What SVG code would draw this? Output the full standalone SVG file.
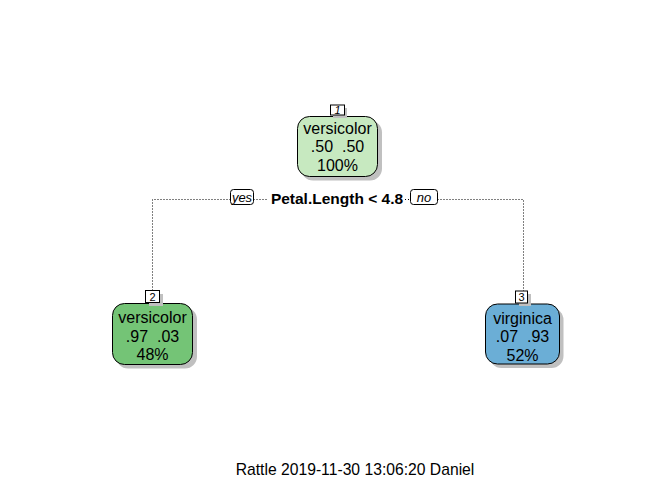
<svg xmlns="http://www.w3.org/2000/svg" width="672" height="480" viewBox="0 0 672 480">
<style>
text{font-family:"Liberation Sans",Arial,sans-serif;fill:#000;white-space:pre}
.node{stroke:#000;stroke-width:1}
.shadow{fill:#c0c0c0;stroke:none}
.nt{font-size:16px;text-anchor:middle}
.num{font-size:11px;text-anchor:middle}
.lbl{fill:#fff;stroke:#000;stroke-width:1}
.dot{fill:none;stroke:#000;stroke-width:1;stroke-dasharray:1 2}
.yn{font-size:13px;font-style:italic;text-anchor:middle}
</style>
<rect width="672" height="480" fill="#fff"/>
<g id="connectors">
<path class="dot" d="M152.5 290.5 V199.5 H230.5"/>
<path class="dot" d="M253.5 199.5 H268"/>
<path class="dot" d="M405 199.5 H410"/>
<path class="dot" d="M437.5 199.5 H523.5 V291"/>
<rect class="lbl" x="230.5" y="189.5" width="23" height="15" rx="3"/>
<text class="yn" x="242" y="202">yes</text>
<rect class="lbl" x="410.5" y="189.5" width="27" height="15" rx="3"/>
<text class="yn" x="424" y="202">no</text>
<text x="337" y="204" font-size="15.5px" font-weight="bold" text-anchor="middle">Petal.Length &lt; 4.8</text>
</g>
<g id="node1">
<rect class="shadow" x="301" y="120.5" width="81" height="60" rx="12"/>
<rect class="node" x="297.5" y="116.5" width="80" height="60" rx="12" fill="#c7e9c0"/>
<rect class="shadow" x="333" y="108" width="14" height="10"/>
<rect class="lbl" x="330.5" y="105" width="14" height="10"/>
<text class="num" x="337.5" y="113.5" font-style="italic">1</text>
<text class="nt" x="337.5" y="134">versicolor</text>
<text class="nt" x="337.5" y="152" xml:space="preserve">.50  .50</text>
<text class="nt" x="337.5" y="171">100%</text>
</g>
<g id="node2">
<rect class="shadow" x="116" y="307.5" width="81" height="61" rx="12"/>
<rect class="node" x="112.5" y="303.5" width="80" height="61" rx="12" fill="#74c476"/>
<rect class="shadow" x="149" y="294" width="14" height="12"/>
<rect class="lbl" x="145.5" y="290.5" width="14" height="12"/>
<text class="num" x="152.5" y="300.5">2</text>
<text class="nt" x="152.5" y="323">versicolor</text>
<text class="nt" x="152.5" y="341.5" xml:space="preserve">.97  .03</text>
<text class="nt" x="152.5" y="360">48%</text>
</g>
<g id="node3">
<rect class="shadow" x="489.5" y="308" width="74" height="60" rx="12"/>
<rect class="node" x="485.5" y="304" width="74" height="60" rx="12" fill="#6baed6"/>
<rect class="shadow" x="519" y="294" width="12" height="12"/>
<rect class="lbl" x="515.5" y="291" width="12" height="12"/>
<text class="num" x="521.5" y="301">3</text>
<text class="nt" x="522.5" y="323.5">virginica</text>
<text class="nt" x="522.5" y="342" xml:space="preserve">.07  .93</text>
<text class="nt" x="522.5" y="360.5">52%</text>
</g>
<text x="355" y="475" font-size="15.7px" text-anchor="middle">Rattle 2019-11-30 13:06:20 Daniel</text>
</svg>
